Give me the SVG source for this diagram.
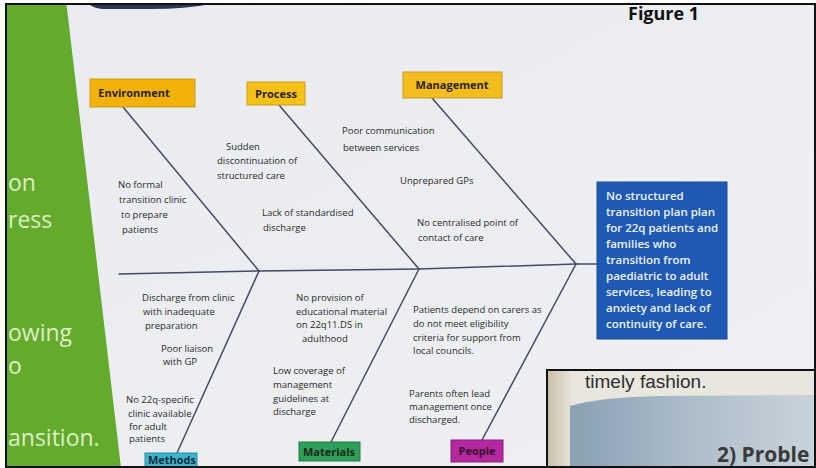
<svg xmlns="http://www.w3.org/2000/svg" width="816" height="468" viewBox="0 0 816 468">
  <defs>
    <clipPath id="frame"><rect x="6" y="4" width="809" height="463"/></clipPath>
    <clipPath id="inset"><rect x="547" y="371" width="269" height="97"/></clipPath>
    <linearGradient id="bg" x1="0" y1="0" x2="1" y2="1">
      <stop offset="0" stop-color="#e9ebf0"/>
      <stop offset="1" stop-color="#eef0f3"/>
    </linearGradient>
    <linearGradient id="panel" x1="0" y1="0" x2="1" y2="0">
      <stop offset="0" stop-color="#8aa0b4"/>
      <stop offset="0.6" stop-color="#b4c2ce"/>
      <stop offset="1" stop-color="#c9d3da"/>
    </linearGradient>
    <linearGradient id="tan" x1="0" y1="0" x2="1" y2="0">
      <stop offset="0" stop-color="#c8bea6"/>
      <stop offset="1" stop-color="#e6e2d8"/>
    </linearGradient>
    <style>
      .cause { font-family: "Open Sans", "Liberation Sans", sans-serif; font-size: 9.5px; fill: #2b2b2b; }
      .lbl { font-family: "Open Sans", "Liberation Sans", sans-serif; font-size: 11px; font-weight: bold; fill: #2a2212; text-anchor: middle; }
      .bone { stroke: #454a66; stroke-width: 1.5; fill: none; stroke-linecap: round; }
      .yel { stroke: #c99a1c; stroke-width: 1; }
      .side { font-family: "Open Sans", "Liberation Sans", sans-serif; font-size: 23px; fill: #dcefc6; }
      .prob { font-family: "Open Sans", "Liberation Sans", sans-serif; font-size: 11.5px; font-weight: 600; fill: #eef3fb; }
    </style>
  </defs>

  <rect width="816" height="468" fill="#ffffff"/>
  <g clip-path="url(#frame)">
    <rect x="0" y="0" width="816" height="468" fill="url(#bg)"/>
    <!-- green side band -->
    <polygon points="0,0 66,0 121,468 0,468" fill="#64aa2d"/>
    <text class="side" x="8" y="191">on</text>
    <text class="side" x="8" y="228">ress</text>
    <text class="side" x="8" y="341">owing</text>
    <text class="side" x="8" y="374">o</text>
    <text class="side" x="8" y="446">ansition.</text>
    <!-- dark top bar -->
    <path d="M88,3 L215,3 Q190,9 150,9 L102,9 Q92,8 88,3 Z" fill="#2c3552"/>
    <!-- title -->
    <text x="628" y="20" font-family="'Open Sans', 'Liberation Sans', sans-serif" font-size="18" font-weight="bold" fill="#111">Figure 1</text>

    <!-- connectors -->
    <g id="connectors">
      <polyline class="bone" points="119,274 259,271 419,269 576,264 597,264"/>
      <line class="bone" x1="123" y1="107" x2="259" y2="271"/>
      <line class="bone" x1="279" y1="105" x2="419" y2="269"/>
      <line class="bone" x1="432" y1="98" x2="576" y2="264"/>
      <line class="bone" x1="177" y1="453" x2="259" y2="271"/>
      <line class="bone" x1="331" y1="442" x2="419" y2="269"/>
      <line class="bone" x1="482" y1="440" x2="576" y2="264"/>
    </g>

    <!-- nodes -->
    <g id="environment">
      <rect class="yel" x="90" y="79" width="105" height="28" fill="#f2b207"/>
      <text class="lbl" x="134" y="97">Environment</text>
      <text class="cause" x="118" y="188">No formal</text>
      <text class="cause" x="119" y="203">transition clinic</text>
      <text class="cause" x="121" y="218">to prepare</text>
      <text class="cause" x="122" y="233">patients</text>
    </g>
    <g id="process">
      <rect class="yel" x="247" y="82" width="58" height="23" fill="#f5c318"/>
      <text class="lbl" x="276" y="98">Process</text>
      <text class="cause" x="226" y="150">Sudden</text>
      <text class="cause" x="217" y="164">discontinuation of</text>
      <text class="cause" x="217" y="179">structured care</text>
      <text class="cause" x="262" y="216">Lack of standardised</text>
      <text class="cause" x="263" y="231">discharge</text>
    </g>
    <g id="management">
      <rect class="yel" x="403" y="72" width="99" height="26" fill="#f3bd1e"/>
      <text class="lbl" x="452" y="89">Management</text>
      <text class="cause" x="342" y="134">Poor communication</text>
      <text class="cause" x="343" y="151">between services</text>
      <text class="cause" x="400" y="184">Unprepared GPs</text>
      <text class="cause" x="417" y="226">No centralised point of</text>
      <text class="cause" x="418" y="241">contact of care</text>
    </g>
    <g id="methods">
      <rect x="145" y="453" width="52" height="20" fill="#3cb6cc" stroke="#2a8ea0" stroke-width="1"/>
      <text class="lbl" x="172" y="464" style="fill:#1d2a3a">Methods</text>
      <text class="cause" x="142" y="301">Discharge from clinic</text>
      <text class="cause" x="143" y="315">with inadequate</text>
      <text class="cause" x="145" y="329">preparation</text>
      <text class="cause" x="161" y="352">Poor liaison</text>
      <text class="cause" x="163" y="365">with GP</text>
      <text class="cause" x="126" y="403">No 22q-specific</text>
      <text class="cause" x="128" y="417">clinic available</text>
      <text class="cause" x="129" y="430">for adult</text>
      <text class="cause" x="129" y="442">patients</text>
    </g>
    <g id="materials">
      <rect x="299" y="442" width="61" height="19" fill="#2f9e58" stroke="#237a44" stroke-width="1"/>
      <text class="lbl" x="329" y="456" style="fill:#1a2a1a">Materials</text>
      <text class="cause" x="296" y="301">No provision of</text>
      <text class="cause" x="296" y="315">educational material</text>
      <text class="cause" x="296" y="328">on 22q11.DS in</text>
      <text class="cause" x="302" y="342">adulthood</text>
      <text class="cause" x="273" y="374">Low coverage of</text>
      <text class="cause" x="273" y="388">management</text>
      <text class="cause" x="273" y="402">guidelines at</text>
      <text class="cause" x="273" y="415">discharge</text>
    </g>
    <g id="people">
      <rect x="451" y="440" width="52" height="22" fill="#b5289f" stroke="#8a1e7a" stroke-width="1"/>
      <text class="lbl" x="477" y="455" style="fill:#3a1030">People</text>
      <text class="cause" x="413" y="313">Patients depend on carers as</text>
      <text class="cause" x="413" y="327">do not meet eligibility</text>
      <text class="cause" x="413" y="341">criteria for support from</text>
      <text class="cause" x="413" y="354">local councils.</text>
      <text class="cause" x="409" y="397">Parents often lead</text>
      <text class="cause" x="409" y="410">management once</text>
      <text class="cause" x="409" y="423">discharged.</text>
    </g>
    <g id="problem">
      <rect x="597" y="182" width="130" height="157" fill="#1f59b4" stroke="#1a4a98" stroke-width="1"/>
      <text class="prob" x="606" y="200">No structured</text>
      <text class="prob" x="606" y="216">transition plan plan</text>
      <text class="prob" x="606" y="232">for 22q patients and</text>
      <text class="prob" x="606" y="248">families who</text>
      <text class="prob" x="606" y="264">transition from</text>
      <text class="prob" x="606" y="280">paediatric to adult</text>
      <text class="prob" x="606" y="296">services, leading to</text>
      <text class="prob" x="606" y="312">anxiety and lack of</text>
      <text class="prob" x="606" y="328">continuity of care.</text>
    </g>

    <!-- overlapping inset photo -->
    <g clip-path="url(#inset)">
      <rect x="547" y="371" width="269" height="97" fill="#e8e6df"/>
      <rect x="547" y="371" width="24" height="97" fill="url(#tan)"/>
      <path d="M570,406 Q600,397 660,396 L816,395 L816,468 L570,468 Z" fill="url(#panel)"/>
      <text x="585" y="388" font-family="'Liberation Sans', Arial, sans-serif" font-size="19" fill="#2e2e2e">timely fashion.</text>
      <text x="717" y="462" font-family="'Open Sans', 'Liberation Sans', sans-serif" font-size="21" font-weight="bold" fill="#3a3a3a">2) Proble</text>
    </g>
    <rect x="547" y="370" width="280" height="110" fill="none" stroke="#111" stroke-width="2"/>
  </g>
  <rect x="6" y="4" width="809" height="463" fill="none" stroke="#111" stroke-width="2"/>
</svg>
